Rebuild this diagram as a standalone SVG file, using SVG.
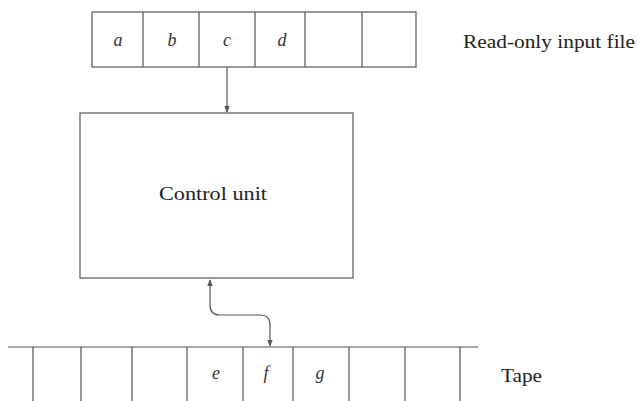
<svg xmlns="http://www.w3.org/2000/svg" width="637" height="401" viewBox="0 0 637 401">
<defs>
<style>
.ln{stroke:#555;stroke-width:1.2;fill:none}
.cell{font-family:"Liberation Serif",serif;font-style:italic;font-size:18px;fill:#333;text-anchor:middle}
.lbl{font-family:"Liberation Serif",serif;font-size:19px;fill:#222}
</style>
<marker id="ah" viewBox="0 0 10 10" refX="9" refY="5" markerWidth="7" markerHeight="7" orient="auto-start-reverse" markerUnits="userSpaceOnUse">
<path d="M0,1 L10,5 L0,9 Z" fill="#555"/>
</marker>
</defs>
<rect width="637" height="401" fill="#fff"/>
<g id="input-file">
<rect class="ln" x="92" y="12" width="324" height="55"/>
<path class="ln" d="M143,12V67M199,12V67M255,12V67M305,12V67M362,12V67"/>
<text class="cell" x="118" y="46">a</text>
<text class="cell" x="172" y="46">b</text>
<text class="cell" x="227" y="46">c</text>
<text class="cell" x="282" y="46">d</text>
<text class="lbl" x="463" y="48" textLength="172" lengthAdjust="spacingAndGlyphs">Read-only input file</text>
</g>
<g id="control-unit">
<rect class="ln" x="80" y="113" width="273" height="165"/>
<text class="lbl" x="159" y="200" textLength="108" lengthAdjust="spacingAndGlyphs">Control unit</text>
</g>
<g id="tape">
<path class="ln" d="M8,347H478M33,347V401M81,347V401M132,347V401M187,347V401M243,347V401M293,347V401M349,347V401M405,347V401M460,347V401"/>
<text class="cell" x="216" y="379">e</text>
<text class="cell" x="266" y="379">f</text>
<text class="cell" x="320" y="379">g</text>
<text class="lbl" x="501" y="382" textLength="41" lengthAdjust="spacingAndGlyphs">Tape</text>
</g>
<g id="connectors">
<path class="ln" d="M227,67V112" marker-end="url(#ah)"/>
<path class="ln" d="M210,280V305Q210,315 220,315H260Q270,315 270,325V346" marker-start="url(#ah)" marker-end="url(#ah)"/>
</g>
</svg>
